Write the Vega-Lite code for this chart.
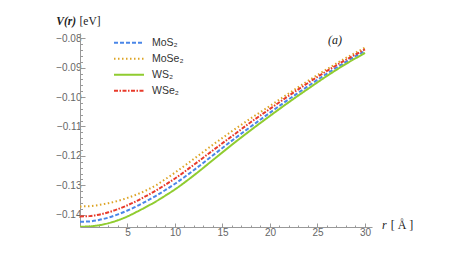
{
  "$schema": "https://vega.github.io/schema/vega-lite/v6.json",
  "width": 292,
  "height": 194,
  "autosize": {"type": "none"},
  "padding": {"left": 80, "top": 33, "right": 91, "bottom": 34},
  "background": "white",
  "config": {"view": {"stroke": null}},
  "resolve": {"axis": {"x": "independent", "y": "independent"}},
  "datasets": {
    "curves": [
      {"m":"MoS₂","r":0,"V":-0.1424},{"m":"MoS₂","r":1,"V":-0.1423},{"m":"MoS₂","r":2,"V":-0.1418},{"m":"MoS₂","r":3,"V":-0.1410},{"m":"MoS₂","r":4,"V":-0.1399},{"m":"MoS₂","r":5,"V":-0.1386},{"m":"MoS₂","r":6,"V":-0.1371},{"m":"MoS₂","r":7,"V":-0.1354},{"m":"MoS₂","r":8,"V":-0.1336},{"m":"MoS₂","r":9,"V":-0.1316},{"m":"MoS₂","r":10,"V":-0.1295},{"m":"MoS₂","r":12,"V":-0.1248},{"m":"MoS₂","r":14,"V":-0.1198},{"m":"MoS₂","r":16,"V":-0.1148},{"m":"MoS₂","r":18,"V":-0.1100},{"m":"MoS₂","r":20,"V":-0.1053},{"m":"MoS₂","r":22,"V":-0.1007},{"m":"MoS₂","r":24,"V":-0.0963},{"m":"MoS₂","r":26,"V":-0.0920},{"m":"MoS₂","r":28,"V":-0.0880},{"m":"MoS₂","r":30,"V":-0.0843},
      {"m":"MoSe₂","r":0,"V":-0.1372},{"m":"MoSe₂","r":1,"V":-0.1371},{"m":"MoSe₂","r":2,"V":-0.1367},{"m":"MoSe₂","r":3,"V":-0.1361},{"m":"MoSe₂","r":4,"V":-0.1353},{"m":"MoSe₂","r":5,"V":-0.1343},{"m":"MoSe₂","r":6,"V":-0.1331},{"m":"MoSe₂","r":7,"V":-0.1317},{"m":"MoSe₂","r":8,"V":-0.1300},{"m":"MoSe₂","r":9,"V":-0.1279},{"m":"MoSe₂","r":10,"V":-0.1257},{"m":"MoSe₂","r":12,"V":-0.1210},{"m":"MoSe₂","r":14,"V":-0.1162},{"m":"MoSe₂","r":16,"V":-0.1116},{"m":"MoSe₂","r":18,"V":-0.1072},{"m":"MoSe₂","r":20,"V":-0.1030},{"m":"MoSe₂","r":22,"V":-0.0987},{"m":"MoSe₂","r":24,"V":-0.0945},{"m":"MoSe₂","r":26,"V":-0.0905},{"m":"MoSe₂","r":28,"V":-0.0867},{"m":"MoSe₂","r":30,"V":-0.0832},
      {"m":"WS₂","r":0,"V":-0.1441},{"m":"WS₂","r":1,"V":-0.1440},{"m":"WS₂","r":2,"V":-0.1436},{"m":"WS₂","r":3,"V":-0.1429},{"m":"WS₂","r":4,"V":-0.1419},{"m":"WS₂","r":5,"V":-0.1406},{"m":"WS₂","r":6,"V":-0.1390},{"m":"WS₂","r":7,"V":-0.1373},{"m":"WS₂","r":8,"V":-0.1355},{"m":"WS₂","r":9,"V":-0.1335},{"m":"WS₂","r":10,"V":-0.1314},{"m":"WS₂","r":12,"V":-0.1266},{"m":"WS₂","r":14,"V":-0.1214},{"m":"WS₂","r":16,"V":-0.1162},{"m":"WS₂","r":18,"V":-0.1112},{"m":"WS₂","r":20,"V":-0.1064},{"m":"WS₂","r":22,"V":-0.1017},{"m":"WS₂","r":24,"V":-0.0972},{"m":"WS₂","r":26,"V":-0.0928},{"m":"WS₂","r":28,"V":-0.0887},{"m":"WS₂","r":30,"V":-0.0850},
      {"m":"WSe₂","r":0,"V":-0.1406},{"m":"WSe₂","r":1,"V":-0.1405},{"m":"WSe₂","r":2,"V":-0.1400},{"m":"WSe₂","r":3,"V":-0.1392},{"m":"WSe₂","r":4,"V":-0.1381},{"m":"WSe₂","r":5,"V":-0.1368},{"m":"WSe₂","r":6,"V":-0.1353},{"m":"WSe₂","r":7,"V":-0.1336},{"m":"WSe₂","r":8,"V":-0.1318},{"m":"WSe₂","r":9,"V":-0.1298},{"m":"WSe₂","r":10,"V":-0.1277},{"m":"WSe₂","r":12,"V":-0.1230},{"m":"WSe₂","r":14,"V":-0.1181},{"m":"WSe₂","r":16,"V":-0.1133},{"m":"WSe₂","r":18,"V":-0.1085},{"m":"WSe₂","r":20,"V":-0.1040},{"m":"WSe₂","r":22,"V":-0.0995},{"m":"WSe₂","r":24,"V":-0.0952},{"m":"WSe₂","r":26,"V":-0.0911},{"m":"WSe₂","r":28,"V":-0.0873},{"m":"WSe₂","r":30,"V":-0.0838}
    ]
  },
  "layer": [
    {
      "data": {"name": "curves"},
      "mark": {"type": "line", "strokeWidth": 2, "interpolate": "monotone", "clip": true},
      "encoding": {
        "x": {
          "field": "r", "type": "quantitative",
          "scale": {"domain": [0, 30.74], "nice": false, "zero": false},
          "axis": {
            "orient": "bottom", "title": null,
            "values": [5, 10, 15, 20, 25, 30],
            "grid": false,
            "domainColor": "#999", "tickColor": "#999", "tickSize": -4,
            "labelColor": "#666", "labelFont": "Liberation Sans", "labelFontSize": 10,
            "labelPadding": 4, "labelOverlap": false, "labelFlush": false
          }
        },
        "y": {
          "field": "V", "type": "quantitative",
          "scale": {"domain": [-0.1442, -0.0782], "nice": false, "zero": false},
          "axis": {
            "orient": "left", "title": null,
            "values": [-0.14, -0.13, -0.12, -0.11, -0.1, -0.09, -0.08],
            "format": ".2f",
            "grid": false,
            "domainColor": "#999", "tickColor": "#999", "tickSize": -5,
            "labelColor": "#666", "labelFont": "Liberation Sans", "labelFontSize": 10,
            "labelPadding": 4, "labelOverlap": false, "labelFlush": false
          }
        },
        "color": {
          "field": "m", "type": "nominal",
          "scale": {"domain": ["MoS₂", "MoSe₂", "WS₂", "WSe₂"], "range": ["#4A86E8", "#DDA425", "#90CC30", "#E83A2A"]},
          "legend": {"title": null, "orient": "none", "legendX": 33, "legendY": 2, "symbolType": "stroke", "symbolSize": 900, "symbolStrokeWidth": 2, "labelFont": "Liberation Sans", "labelFontSize": 10.5, "labelColor": "#333", "clipHeight": 15.5, "rowPadding": 0, "labelOffset": 7}
        },
        "strokeDash": {
          "field": "m", "type": "nominal",
          "scale": {"domain": ["MoS₂", "MoSe₂", "WS₂", "WSe₂"], "range": [[4, 2], [1.5, 2.5], [1, 0], [4, 1.5, 1.5, 1.5]]},
          "legend": {"title": null, "orient": "none", "legendX": 33, "legendY": 2, "symbolType": "stroke", "symbolSize": 900, "symbolStrokeWidth": 2, "labelFont": "Liberation Sans", "labelFontSize": 10.5, "labelColor": "#333", "clipHeight": 15.5, "rowPadding": 0, "labelOffset": 7}
        }
      }
    },
    {
      "data": {"values": [{"label": "(a)"}]},
      "mark": {"type": "text", "font": "Liberation Serif", "fontStyle": "italic", "fontSize": 12, "color": "#222"},
      "encoding": {
        "x": {"datum": 26.84, "type": "quantitative",
          "axis": {"orient": "bottom", "title": null, "domain": false, "labels": false, "grid": false,
            "values": [1,2,3,4,6,7,8,9,11,12,13,14,16,17,18,19,21,22,23,24,26,27,28,29],
            "tickColor": "#999", "tickSize": -2}},
        "y": {"datum": -0.0806, "type": "quantitative",
          "axis": {"orient": "left", "title": null, "domain": false, "labels": false, "grid": false,
            "values": [-0.144,-0.142,-0.138,-0.136,-0.134,-0.132,-0.128,-0.126,-0.124,-0.122,-0.118,-0.116,-0.114,-0.112,-0.108,-0.106,-0.104,-0.102,-0.098,-0.096,-0.094,-0.092,-0.088,-0.086,-0.084,-0.082],
            "tickColor": "#999", "tickSize": -2.5}},
        "text": {"field": "label"}
      }
    },
    {
      "data": {"values": [{"label": "V(r)"}]},
      "mark": {"type": "text", "font": "Liberation Serif", "fontStyle": "italic", "fontWeight": "bold", "fontSize": 11.5, "color": "#222"},
      "encoding": {"x": {"datum": -1.45, "type": "quantitative", "axis": null}, "y": {"datum": -0.0744, "type": "quantitative", "axis": null}, "text": {"field": "label"}}
    },
    {
      "data": {"values": [{"label": "[eV]"}]},
      "mark": {"type": "text", "font": "Liberation Serif", "fontSize": 11.5, "color": "#222"},
      "encoding": {"x": {"datum": 1.05, "type": "quantitative", "axis": null}, "y": {"datum": -0.0744, "type": "quantitative", "axis": null}, "text": {"field": "label"}}
    },
    {
      "data": {"values": [{"label": "r"}]},
      "mark": {"type": "text", "font": "Liberation Serif", "fontStyle": "italic", "fontSize": 12, "color": "#222"},
      "encoding": {"x": {"datum": 32.05, "type": "quantitative", "axis": null}, "y": {"datum": -0.1434, "type": "quantitative", "axis": null}, "text": {"field": "label"}}
    },
    {
      "data": {"values": [{"label": "[ Å ]"}]},
      "mark": {"type": "text", "font": "Liberation Serif", "fontSize": 12, "color": "#222"},
      "encoding": {"x": {"datum": 33.9, "type": "quantitative", "axis": null}, "y": {"datum": -0.1434, "type": "quantitative", "axis": null}, "text": {"field": "label"}}
    }
  ]
}
